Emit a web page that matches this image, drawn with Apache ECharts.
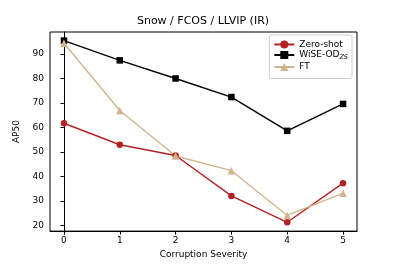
<!DOCTYPE html>
<html><head><meta charset="utf-8">
<script src="https://cdn.jsdelivr.net/npm/echarts@6/dist/echarts.min.js"></script>
<style>html,body{margin:0;padding:0;background:#fff}#c{width:397px;height:264px}</style>
</head><body><div id="c"></div>
<script>
const severities = [0, 1, 2, 3, 4, 5];
const yTicks = [20, 30, 40, 50, 60, 70, 80, 90];
const zeroShot = [61.7, 52.9, 48.5, 32.0, 21.2, 37.2];
const wiseOD = [95.5, 87.4, 80.0, 72.4, 58.6, 69.6];
const ft = [94.4, 66.9, 48.3, 42.3, 24.0, 33.1];
const seriesNames = ['Zero-shot', 'WiSE-OD', 'FT'];

const font = 'DejaVu Sans';
const pair = arr => severities.map((x, i) => [x, arr[i]]);

const chart = echarts.init(document.getElementById('c'));
chart.setOption({
  animation: false,
  backgroundColor: '#fff',
  title: {
    text: 'Snow / FCOS / LLVIP (IR)', left: 203, top: 16, textAlign: 'center', padding: 0,
    textStyle: {fontFamily: font, fontSize: 11, fontWeight: 'normal', color: '#000'}
  },
  grid: {left: 50, right: 40, top: 32, bottom: 29, show: true, borderColor: '#000', borderWidth: 1},
  legend: {
    right: 45, top: 35, orient: 'vertical', itemGap: 1.5, itemWidth: 20, itemHeight: 10,
    padding: [5, 4, 7, 4], borderColor: '#ccc', borderWidth: 1, borderRadius: 2,
    backgroundColor: 'rgba(255,255,255,0.8)',
    textStyle: {fontFamily: font, fontSize: 9, color: '#000',
      rich: {sub: {fontFamily: font, fontSize: 6.5, fontStyle: 'italic', verticalAlign: 'bottom', padding: [5, 0, 0, 0]}}},
    formatter: n => n === 'WiSE-OD' ? 'WiSE-OD{sub|ZS}' : n,
    data: seriesNames
  },
  xAxis: {
    type: 'value', min: -0.25, max: 5.25,
    name: 'Corruption Severity', nameLocation: 'middle', nameGap: 18,
    nameTextStyle: {fontFamily: font, fontSize: 9, color: '#000'},
    axisLine: {show: true, onZero: false, lineStyle: {color: '#000'}},
    axisTick: {show: true, length: 3.5, customValues: severities, lineStyle: {color: '#000'}},
    axisLabel: {customValues: severities, fontFamily: font, fontSize: 9, color: '#000', margin: 5},
    splitLine: {show: false}
  },
  yAxis: {
    type: 'value', min: 17.6, max: 99,
    name: 'AP50', nameLocation: 'middle', nameGap: 22,
    nameTextStyle: {fontFamily: font, fontSize: 9, color: '#000'},
    axisLine: {show: true, lineStyle: {color: '#000'}},
    axisTick: {show: true, length: 3.5, customValues: yTicks, lineStyle: {color: '#000'}},
    axisLabel: {customValues: yTicks, fontFamily: font, fontSize: 9, color: '#000', margin: 6},
    splitLine: {show: false}
  },
  series: [
    {name: seriesNames[0], type: 'line', data: pair(zeroShot), symbol: 'circle', symbolSize: 6.5,
     color: '#b22222', lineStyle: {width: 1.4, color: '#b22222'}, itemStyle: {color: '#b22222'}},
    {name: seriesNames[1], type: 'line', data: pair(wiseOD), symbol: 'rect', symbolSize: 6.5,
     color: '#000', lineStyle: {width: 1.4, color: '#000'}, itemStyle: {color: '#000'}},
    {name: seriesNames[2], type: 'line', data: pair(ft), symbol: 'triangle', symbolSize: 7.5,
     color: '#d2b48c', lineStyle: {width: 1.4, color: '#d2b48c'}, itemStyle: {color: '#d2b48c'}}
  ]
});
</script></body></html>
